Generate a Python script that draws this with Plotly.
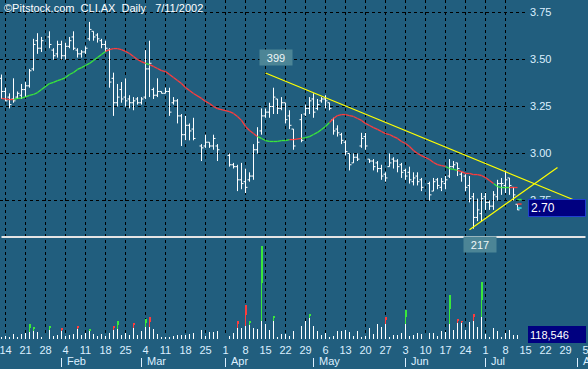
import numpy as np
import pandas as pd
import plotly.graph_objects as go

BG = "#215e7e"
TXT = "#dcefff"
FONT = "Liberation Sans"
GREEN = "#3ae83a"
RED = "#ff3c3c"

# ---------------- data ----------------
first_day = "2002-01-11"
last_day = "2002-07-11"
no_trade = ["2002-01-28", "2002-03-21", "2002-03-29", "2002-04-01", "2002-04-25", "2002-06-10"]

open_ = [3.40, 3.33, 3.30, 3.29, 3.30, 3.31, 3.34, 3.36, 3.45, 3.60, 3.56,
         3.62, 3.55, 3.53, 3.58, 3.52, 3.57, 3.62, 3.55, 3.53, 3.54,
         3.61, 3.65, 3.63, 3.60, 3.58, 3.55, 3.40, 3.27, 3.34, 3.30,
         3.29, 3.27, 3.29, 3.27, 3.30, 3.45, 3.34, 3.31, 3.33, 3.32,
         3.33, 3.27, 3.28, 3.20, 3.10, 3.15, 3.13,
         3.04, 3.04, 3.06, 3.04, 3.04,
         2.99, 2.94, 2.93, 2.86, 2.85, 2.86, 2.88, 3.02, 3.12, 3.20,
         3.22, 3.25, 3.29, 3.24, 3.27, 3.20, 3.13,
         3.18, 3.21, 3.24, 3.29, 3.24, 3.28, 3.29, 3.27, 3.18, 3.13,
         3.10, 3.06, 3.00, 2.95, 2.98, 3.04, 3.09, 2.97, 2.96, 2.95,
         2.92, 2.89, 2.93, 2.97, 2.96, 2.94, 2.91, 2.90, 2.85, 2.88, 2.86,
         2.84, 2.80, 2.86, 2.82, 2.84, 2.88, 2.93, 2.95, 2.89, 2.88,
         2.83, 2.77, 2.66, 2.68, 2.77, 2.74, 2.72, 2.77, 2.84, 2.83,
         2.87, 2.82, 2.73]
high = [3.42, 3.35, 3.32, 3.40, 3.33, 3.37, 3.38, 3.45, 3.61, 3.64, 3.62,
        3.65, 3.56, 3.60, 3.60, 3.59, 3.62, 3.65, 3.56, 3.55, 3.57,
        3.70, 3.65, 3.64, 3.61, 3.60, 3.56, 3.43, 3.37, 3.38, 3.40,
        3.31, 3.30, 3.30, 3.30, 3.55, 3.60, 3.35, 3.40, 3.33, 3.35,
        3.35, 3.30, 3.29, 3.21, 3.20, 3.16, 3.19,
        3.05, 3.10, 3.06, 3.10, 3.05,
        3.00, 2.95, 2.94, 2.95, 2.92, 2.90, 3.05, 3.14, 3.24, 3.24,
        3.27, 3.35, 3.29, 3.30, 3.27, 3.23, 3.13,
        3.21, 3.26, 3.30, 3.32, 3.29, 3.30, 3.31, 3.27, 3.19, 3.15,
        3.11, 3.07, 3.00, 3.00, 3.00, 3.11, 3.11, 2.97, 2.97, 2.96,
        2.94, 2.90, 3.00, 2.98, 2.97, 2.95, 2.92, 2.93, 2.90, 2.90, 2.87,
        2.85, 2.87, 2.87, 2.87, 2.88, 2.97, 2.96, 2.95, 2.90, 2.89,
        2.88, 2.79, 2.76, 2.79, 2.79, 2.75, 2.80, 2.86, 2.87, 2.91,
        2.87, 2.82, 2.73]
low = [3.29, 3.28, 3.24, 3.27, 3.29, 3.29, 3.30, 3.35, 3.44, 3.53, 3.54,
       3.56, 3.50, 3.51, 3.50, 3.50, 3.56, 3.55, 3.51, 3.51, 3.53,
       3.60, 3.60, 3.59, 3.56, 3.54, 3.35, 3.20, 3.25, 3.27, 3.25,
       3.24, 3.23, 3.26, 3.26, 3.29, 3.30, 3.29, 3.30, 3.32, 3.32,
       3.20, 3.26, 3.16, 3.04, 3.07, 3.07, 3.07,
       2.96, 3.03, 3.03, 3.02, 2.96,
       2.93, 2.92, 2.80, 2.81, 2.79, 2.85, 2.86, 3.00, 3.10, 3.19,
       3.19, 3.21, 3.21, 3.23, 3.16, 3.13, 3.02,
       3.06, 3.20, 3.21, 3.19, 3.23, 3.27, 3.24, 3.23, 3.10, 3.09,
       3.05, 2.99, 2.91, 2.95, 2.96, 3.03, 3.02, 2.95, 2.91, 2.90,
       2.86, 2.85, 2.93, 2.92, 2.90, 2.87, 2.86, 2.84, 2.83, 2.83, 2.80,
       2.75, 2.80, 2.81, 2.80, 2.81, 2.87, 2.92, 2.88, 2.85, 2.80,
       2.74, 2.60, 2.64, 2.64, 2.70, 2.70, 2.70, 2.75, 2.78, 2.79,
       2.78, 2.75, 2.70]
close = [3.33, 3.28, 3.26, 3.28, 3.32, 3.34, 3.36, 3.44, 3.58, 3.56, 3.60,
         3.58, 3.52, 3.58, 3.52, 3.57, 3.60, 3.56, 3.53, 3.54, 3.56,
         3.66, 3.62, 3.61, 3.58, 3.56, 3.38, 3.27, 3.30, 3.29, 3.28,
         3.27, 3.28, 3.27, 3.29, 3.45, 3.48, 3.31, 3.33, 3.32, 3.33,
         3.22, 3.28, 3.20, 3.10, 3.15, 3.12, 3.08,
         3.03, 3.06, 3.04, 3.08, 3.02,
         2.94, 2.93, 2.86, 2.84, 2.82, 2.88, 3.02, 3.06, 3.20, 3.22,
         3.25, 3.30, 3.24, 3.27, 3.18, 3.15, 3.04,
         3.07, 3.24, 3.28, 3.22, 3.26, 3.29, 3.28, 3.24, 3.12, 3.11,
         3.07, 3.01, 2.94, 2.98, 2.97, 3.08, 3.04, 2.96, 2.93, 2.92,
         2.88, 2.87, 2.95, 2.96, 2.93, 2.90, 2.88, 2.86, 2.87, 2.85, 2.82,
         2.78, 2.85, 2.83, 2.85, 2.86, 2.93, 2.94, 2.92, 2.90, 2.82,
         2.76, 2.66, 2.70, 2.76, 2.74, 2.72, 2.78, 2.84, 2.84, 2.86,
         2.83, 2.78, 2.70]
ma = [3.293, 3.290, 3.287, 3.287, 3.293, 3.295, 3.301, 3.309, 3.314, 3.324, 3.340,
      3.372, 3.378, 3.388, 3.394, 3.404, 3.420, 3.431, 3.447, 3.457, 3.468,
      3.479, 3.495, 3.511, 3.527, 3.543, 3.553, 3.558, 3.558, 3.553, 3.543,
      3.532, 3.516, 3.500, 3.489, 3.479, 3.473, 3.463, 3.452, 3.441, 3.436,
      3.420, 3.404, 3.388, 3.372, 3.351, 3.335, 3.319,
      3.293, 3.277, 3.266, 3.250, 3.239,
      3.223, 3.213, 3.197, 3.176, 3.144, 3.122, 3.106, 3.090, 3.080, 3.069,
      3.064, 3.064, 3.064, 3.069, 3.069, 3.074, 3.074,
      3.080, 3.085, 3.090, 3.101, 3.112, 3.128, 3.144, 3.165, 3.186, 3.202,
      3.207, 3.207, 3.202, 3.197, 3.186, 3.176, 3.160, 3.149, 3.138, 3.128,
      3.117, 3.106, 3.101, 3.090, 3.080, 3.064, 3.053, 3.037, 3.016, 3.000, 2.989,
      2.968, 2.952, 2.941, 2.936, 2.931, 2.920, 2.915, 2.910, 2.904, 2.894,
      2.894, 2.888, 2.888, 2.883, 2.872, 2.856, 2.840, 2.824, 2.819, 2.819,
      2.819, 2.819, 2.819]
vol_k = [63, 91, 63, 146, 63, 146, 174, 422, 339, 201, 63,
         367, 91, 119, 312, 91, 119, 146, 331, 119, 174,
         257, 146, 91, 146, 91, 174, 367, 505, 119, 174,
         119, 442, 119, 229, 560, 599, 284, 146, 63, 63,
         63, 91, 119, 119, 119, 146, 174,
         257, 75, 185, 201, 229,
         91, 174, 489, 312, 947, 477, 312, 284, 2559, 422,
         240, 643, 63, 146, 146, 91, 229,
         367, 489, 671, 367, 229, 119, 174, 63, 91, 229,
         229, 257, 201, 91, 229, 36, 91, 312, 146, 422,
         339, 599, 63, 119, 119, 174, 809, 91, 119, 174, 146,
         174, 174, 91, 229, 201, 1223, 257, 560, 489, 257,
         477, 698, 339, 1565, 146, 63, 312, 229, 63, 174,
         257, 119, 118.546]

# above-average volume days: white part height and up/down colour
hl_dates = ["2002-01-22", "2002-01-23", "2002-01-29", "2002-02-01", "2002-02-07", "2002-02-12",
            "2002-02-20", "2002-02-21", "2002-02-27", "2002-03-04", "2002-03-05", "2002-04-04",
            "2002-04-08", "2002-04-09", "2002-04-12", "2002-04-17", "2002-04-30", "2002-05-27",
            "2002-06-03", "2002-06-18", "2002-06-20", "2002-06-21", "2002-06-26", "2002-06-28"]
hl_base = [201, 221, 240, 229, 284, 229, 267, 284, 312, 339, 339, 312,
           367, 405, 505, 505, 599, 422, 422, 422, 450, 450, 505, 599]
hl_side = ["up", "up", "up", "down", "down", "up", "down", "up", "down", "up", "down", "down",
           "down", "up", "up", "up", "up", "down", "up", "up", "down", "down", "down", "up"]

trend_down_dates = ["2002-04-15", "2002-07-31"]
trend_down_prices = [3.428, 2.754]
trend_up_dates = ["2002-06-25", "2002-07-25"]
trend_up_prices = [2.595, 2.925]
support_dates = ["2002-01-11", "2002-08-05"]
support_price = 2.556
last_marks = [2.755, 2.731, 2.710]
last_mark_colors = [GREEN, RED, "#33e0f0"]

peak_label = "399"
low_label = "217"
title_text = "\u00a9Pitstock.com\u00a0\u00a0CLI.AX\u00a0\u00a0Daily\u00a0\u00a0\u00a07/11/2002"
price_ticks = [2.75, 3.00, 3.25, 3.50, 3.75]

# ---------------- helpers ----------------
dates = [d.strftime("%Y-%m-%d") for d in pd.bdate_range(first_day, last_day)
         if d.strftime("%Y-%m-%d") not in no_trade]
assert len(dates) == len(close) == len(open_) == len(high) == len(low) == len(ma) == len(vol_k)


def slot(d):
    return int(np.busday_count(first_day, pd.Timestamp(d).strftime("%Y-%m-%d")))


xs = [slot(d) for d in dates]
X_RANGE = [-0.375, 146.625]
P_RANGE = [3.75 - 326.5 / 188, 3.75 + 12.5 / 188]
V_RANGE = [0, 339 * 27.57]

fig = go.Figure()

# ---------------- volume ----------------
hl = {d: (b, s) for d, b, s in zip(hl_dates, hl_base, hl_side)}
white_h = [hl[d][0] if d in hl else v for d, v in zip(dates, vol_k)]
fig.add_trace(go.Bar(x=xs, y=white_h, base=0, width=0.25, offset=-0.125,
                     marker=dict(color="white", line=dict(width=0)), yaxis="y2",
                     hoverinfo="skip"))
for side, col in (("up", GREEN), ("down", RED)):
    sx, sb, sh = [], [], []
    for d, b, s in zip(hl_dates, hl_base, hl_side):
        if s != side:
            continue
        top = vol_k[dates.index(d)]
        sx.append(slot(d))
        sb.append(b)
        sh.append((top - b) / 2)
    fig.add_trace(go.Bar(x=sx, y=sh, base=sb, width=0.25, offset=-0.125,
                         marker=dict(color=col, line=dict(width=0)), yaxis="y2",
                         hoverinfo="skip"))
    fig.add_trace(go.Bar(x=sx, y=sh, base=[b + h for b, h in zip(sb, sh)], width=0.5,
                         offset=-0.125, marker=dict(color=col, line=dict(width=0)),
                         yaxis="y2", hoverinfo="skip"))

# ---------------- price bars ----------------
fig.add_trace(go.Ohlc(x=xs, open=open_, high=high, low=low, close=close,
                      increasing=dict(line=dict(color="white", width=1)),
                      decreasing=dict(line=dict(color="white", width=1)),
                      tickwidth=0.5, hoverinfo="skip"))

# ---------------- moving average (green above / red below) ----------------
gx, gy, rx, ry = [], [], [], []
for i in range(1, len(xs)):
    if close[i] >= ma[i]:
        gx += [xs[i - 1], xs[i], None]
        gy += [ma[i - 1], ma[i], None]
    else:
        rx += [xs[i - 1], xs[i], None]
        ry += [ma[i - 1], ma[i], None]
fig.add_trace(go.Scatter(x=gx, y=gy, mode="lines", line=dict(color=GREEN, width=1.3),
                         hoverinfo="skip"))
fig.add_trace(go.Scatter(x=rx, y=ry, mode="lines", line=dict(color=RED, width=1.3),
                         hoverinfo="skip"))

# ---------------- trend lines ----------------
fig.add_trace(go.Scatter(x=[slot(d) for d in trend_down_dates], y=trend_down_prices,
                         mode="lines", line=dict(color="#ffff00", width=1.2), hoverinfo="skip"))
fig.add_trace(go.Scatter(x=[slot(d) for d in trend_up_dates], y=trend_up_prices,
                         mode="lines", line=dict(color="#ffff00", width=1.2), hoverinfo="skip"))
fig.add_trace(go.Scatter(x=[slot(d) for d in support_dates], y=[support_price] * 2,
                         mode="lines", line=dict(color="#e4e4e4", width=2), hoverinfo="skip"))
fig.add_trace(go.Scatter(x=[xs[-1] + 0.5] * 3, y=last_marks, mode="markers",
                         marker=dict(symbol="line-ew", size=3, color=last_mark_colors,
                                     line=dict(color=last_mark_colors, width=1.5)),
                         hoverinfo="skip"))

# ---------------- grid ----------------
weeks = pd.date_range("2002-01-14", periods=30, freq="7D")
shapes = []
for w in weeks[:26]:
    shapes.append(dict(type="line", xref="x", yref="paper", x0=slot(w), x1=slot(w),
                       y0=(339 - 333) / 339, y1=1, layer="below",
                       line=dict(color="black", width=1, dash="3px,3px")))
for p in price_ticks:
    shapes.append(dict(type="line", xref="paper", yref="y", x0=0, x1=525 / 588, y0=p, y1=p,
                       layer="below", line=dict(color="black", width=1, dash="3px,3px")))

months = pd.date_range("2002-02-01", periods=7, freq="BMS")
annotations = []
for m in months:
    shapes.append(dict(type="line", xref="x", yref="paper", x0=slot(m), x1=slot(m),
                       y0=-(358 - 339) / 339, y1=-(367 - 339) / 339,
                       line=dict(color=TXT, width=1)))
    annotations.append(dict(xref="x", yref="paper", x=slot(m), y=-(361 - 339) / 339,
                            xanchor="left", yanchor="middle", xshift=3, showarrow=False,
                            text=m.strftime("%b"), font=dict(family=FONT, size=11, color=TXT)))

# ---------------- labels ----------------
annotations.append(dict(xref="paper", yref="paper", x=2 / 588, y=1 - 7.5 / 339,
                        xanchor="left", yanchor="middle", showarrow=False, text=title_text,
                        font=dict(family=FONT, size=11, color="white")))
annotations.append(dict(xref="x", yref="y", x=slot(trend_down_dates[0]), y=trend_down_prices[0],
                        xanchor="center", yanchor="middle", xshift=10.5, yshift=15.5,
                        showarrow=False, text=peak_label, bgcolor="#4c8596",
                        width=32, height=15, borderpad=0,
                        font=dict(family=FONT, size=11, color="#eef6f6")))
i_low = int(np.argmin(low))
annotations.append(dict(xref="x", yref="y", x=xs[i_low], y=low[i_low],
                        xanchor="center", yanchor="middle", xshift=6.5, yshift=-15.8,
                        showarrow=False, text=low_label, bgcolor="#4c8596",
                        width=32, height=15, borderpad=0,
                        font=dict(family=FONT, size=11, color="#eef6f6")))
annotations.append(dict(xref="paper", yref="y", x=528 / 588, y=close[-1], yshift=1.9,
                        xanchor="left", yanchor="middle", showarrow=False,
                        text=f"{close[-1]:.2f}", align="left", width=52, height=12,
                        borderpad=2, borderwidth=1, bgcolor="#000080", bordercolor="#2040d0",
                        font=dict(family=FONT, size=12, color="white")))
annotations.append(dict(xref="paper", yref="y2", x=528 / 588, y=vol_k[-1],
                        xanchor="left", yanchor="middle", showarrow=False,
                        text=f"{round(vol_k[-1] * 1000):,}", align="left", width=54, height=13,
                        borderpad=2, borderwidth=0, bgcolor="#000080",
                        font=dict(family=FONT, size=11, color="white")))

fig.update_layout(
    width=588, height=369,
    margin=dict(l=0, r=0, t=0, b=30, pad=0, autoexpand=False),
    paper_bgcolor=BG, plot_bgcolor=BG,
    showlegend=False, barmode="overlay", bargap=0,
    font=dict(family=FONT, size=11, color=TXT),
    xaxis=dict(range=X_RANGE, showgrid=False, zeroline=False, showline=False, ticks="",
               automargin=False, ticklabelstandoff=3, ticklabeloverflow="allow",
               tickvals=[slot(w) for w in weeks], ticktext=[str(w.day) for w in weeks],
               tickfont=dict(family=FONT, size=11, color=TXT),
               rangeslider=dict(visible=False), fixedrange=True),
    yaxis=dict(range=P_RANGE, showgrid=False, zeroline=False, showline=False, ticks="",
               automargin=False, ticklabelstandoff=4, ticklabeloverflow="allow",
               side="right", anchor="free", position=525 / 588,
               tickvals=price_ticks, ticktext=[f"{p:.2f}" for p in price_ticks],
               tickfont=dict(family=FONT, size=11, color=TXT), fixedrange=True),
    yaxis2=dict(range=V_RANGE, overlaying="y", visible=False, fixedrange=True,
                automargin=False),
    shapes=shapes, annotations=annotations,
)

fig.write_html("out.html", config={"displayModeBar": False, "staticPlot": False},
               post_script="document.body.style.margin='0';document.body.style.padding='0';")
